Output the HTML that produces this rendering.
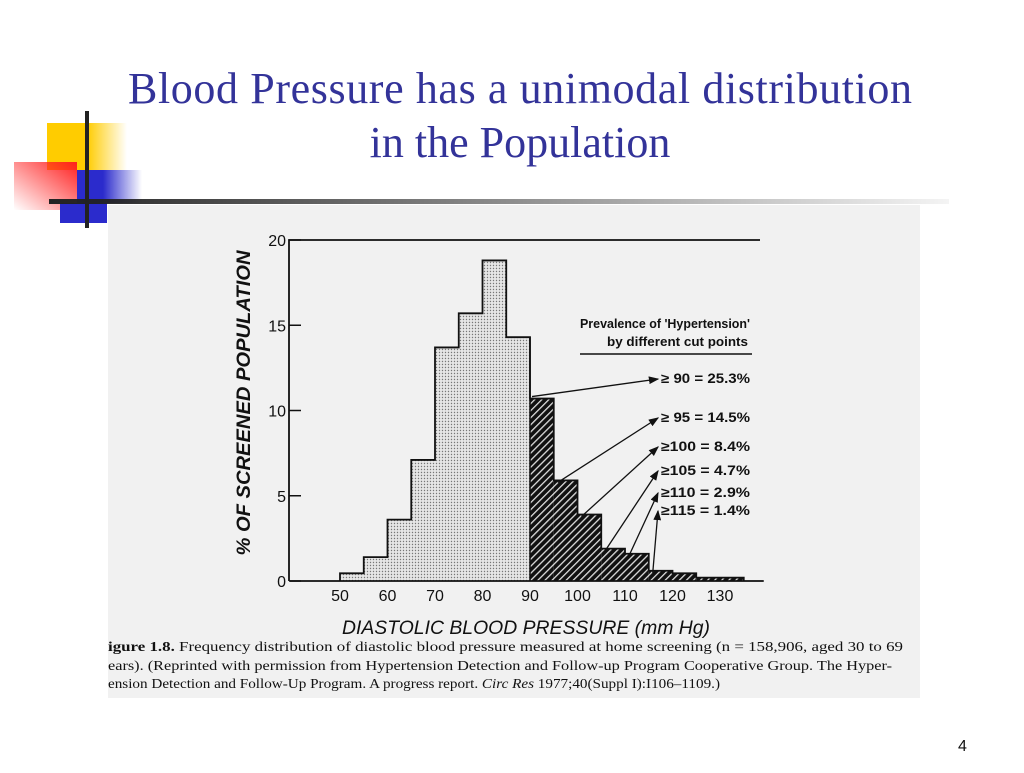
<!DOCTYPE html>
<html><head><meta charset="utf-8"><style>
body{margin:0;background:#fff;width:1024px;height:768px;overflow:hidden}
svg text{font-family:"Liberation Sans",sans-serif}
svg text.serif{font-family:"Liberation Serif",serif}
</style></head><body>
<svg width="1024" height="768">
<defs>
<linearGradient id="gy" x1="0" x2="1"><stop offset="0.5" stop-color="#ffcc00"/><stop offset="1" stop-color="#ffcc00" stop-opacity="0"/></linearGradient>
<linearGradient id="gr" x1="1" y1="0" x2="0" y2="1"><stop offset="0" stop-color="#ff2020"/><stop offset="1" stop-color="#ff2020" stop-opacity="0"/></linearGradient>
<linearGradient id="gb" x1="0" x2="1"><stop offset="0.4" stop-color="#2b2bcc"/><stop offset="1" stop-color="#2b2bcc" stop-opacity="0"/></linearGradient>
<linearGradient id="gl" x1="0" x2="1"><stop offset="0" stop-color="#222"/><stop offset="1" stop-color="#222" stop-opacity="0.05"/></linearGradient>
<pattern id="dots" width="3" height="3" patternUnits="userSpaceOnUse"><rect width="3" height="3" fill="#e6e6e6"/><circle cx="1.5" cy="1.5" r="0.7" fill="#777"/></pattern>
<pattern id="hatch" width="5" height="5" patternUnits="userSpaceOnUse" patternTransform="rotate(45)"><rect width="5" height="5" fill="#111"/><rect width="1.3" height="5" fill="#ddd"/></pattern>
<marker id="ah" markerWidth="8" markerHeight="6" refX="7" refY="3" orient="auto"><path d="M0,0 L8,3 L0,6 z" fill="#111"/></marker>
</defs>
<g>
<rect x="47" y="123" width="80" height="47" fill="url(#gy)"/>
<rect x="14" y="162" width="63" height="48" fill="url(#gr)"/>
<rect x="77" y="170" width="65" height="33" fill="url(#gb)"/>
<rect x="60" y="203" width="47" height="20" fill="#2b2bcc"/>
<rect x="49" y="199" width="900" height="5" fill="url(#gl)"/>
<rect x="85" y="111" width="4" height="117" fill="#222"/>
</g>
<text class="serif" x="520" y="103" text-anchor="middle" fill="#333399" font-size="44" textLength="784">Blood Pressure has a unimodal distribution</text>
<text class="serif" x="520" y="157" text-anchor="middle" fill="#333399" font-size="44">in the Population</text>
<rect x="108" y="205" width="812" height="493" fill="#f1f1f1"/>
<g id="chart"></g>
<text x="342" y="634" font-size="19" font-style="italic" fill="#111" textLength="368" lengthAdjust="spacingAndGlyphs">DIASTOLIC BLOOD PRESSURE (mm Hg)</text>
<text transform="translate(250,403) rotate(-90)" text-anchor="middle" font-size="19" font-style="italic" font-weight="bold" fill="#111" textLength="305" lengthAdjust="spacingAndGlyphs">% OF SCREENED POPULATION</text>
<g font-size="14" fill="#111">
<text class="serif" x="108" y="651" textLength="795" lengthAdjust="spacingAndGlyphs"><tspan font-weight="bold">igure 1.8.</tspan>   Frequency distribution of diastolic blood pressure measured at home screening (n = 158,906, aged 30 to 69</text>
<text class="serif" x="108" y="670" textLength="784" lengthAdjust="spacingAndGlyphs">ears). (Reprinted with permission from Hypertension Detection and Follow-up Program Cooperative Group. The Hyper-</text>
<text class="serif" x="108" y="688" textLength="612" lengthAdjust="spacingAndGlyphs">ension Detection and Follow-Up Program. A progress report. <tspan font-style="italic">Circ Res</tspan> 1977;40(Suppl I):I106–1109.)</text>
</g>
<g font-size="13" font-weight="bold" fill="#111">
<text x="580" y="328" textLength="170" lengthAdjust="spacingAndGlyphs">Prevalence of 'Hypertension'</text>
<text x="607" y="346" textLength="141" lengthAdjust="spacingAndGlyphs">by different cut points</text>
<line x1="580" y1="354" x2="752" y2="354" stroke="#111" stroke-width="1.5"/>
</g>
<g id="legend" font-size="13.5" font-weight="bold" fill="#111"></g>
<text x="958" y="751" font-size="16" fill="#111">4</text>
</svg>
<script>
const binStarts=[50,55,60,65,70,75,80,85,90,95,100,105,110,115,120,125,130];
const percents=[0.45,1.4,3.6,7.1,13.7,15.7,18.8,14.3,10.7,5.9,3.9,1.9,1.6,0.6,0.45,0.2,0.2];
const xTicks=[50,60,70,80,90,100,110,120,130];
const yTicks=[0,5,10,15,20];
const cutLabels=["≥ 90 = 25.3%","≥ 95 = 14.5%","≥100 =  8.4%","≥105 =  4.7%","≥110 =  2.9%","≥115 =  1.4%"];
const cutPoints=[90,95,100,105,110,115];
const NS="http://www.w3.org/2000/svg";
const xS=v=>340+(v-50)*4.75, yS=v=>581-v*17.05;
const g=document.getElementById('chart');
function mk(t,a,p){const e=document.createElementNS(NS,t);for(const k in a)e.setAttribute(k,a[k]);(p||g).appendChild(e);return e;}
let d=`M${xS(binStarts[0])},${yS(0)}`;
binStarts.forEach((b,i)=>{
 const r=mk('rect',{x:xS(b),y:yS(percents[i]),width:xS(b+5)-xS(b),height:yS(0)-yS(percents[i]),fill:b>=90?'url(#hatch)':'url(#dots)'});
 
 
 d+=` V${yS(percents[i])} H${xS(b+5)}`;
});
d+=` V${yS(0)}`;
mk('path',{d:d,fill:'none',stroke:'#111','stroke-width':1.8});
mk('line',{x1:xS(90),x2:xS(90),y1:yS(0),y2:yS(percents[binStarts.indexOf(85)]),stroke:'#111','stroke-width':1.5});
const ax=mk('path',{d:`M${xS(50)-50},${yS(0)} H${xS(135)+20} M289,${yS(0)} V${yS(20)} H760`,stroke:'#111','stroke-width':1.8,fill:'none'});


yTicks.forEach(t=>{
 mk('line',{x1:289,x2:301,y1:yS(t),y2:yS(t),stroke:'#111','stroke-width':1.5});
 const tx=mk('text',{x:286,y:yS(t)+6,'text-anchor':'end','font-size':16,fill:'#111'});tx.textContent=t;
 
 
});
xTicks.forEach(t=>{
 const tx=mk('text',{x:xS(t),y:601,'text-anchor':'middle','font-size':16,fill:'#111'});tx.textContent=t;
 
 
});
const lg=document.getElementById('legend');
const labelY=[383,422,451,475,497,515];
cutLabels.forEach((l,i)=>{
 const tx=mk('text',{x:661,y:labelY[i],textLength:89,lengthAdjust:'spacingAndGlyphs'},lg);tx.textContent=l;
 
 
 const c=cutPoints[i], idx=binStarts.indexOf(c);
 const sx=xS(c)+(i==0?2:4), sy=yS(percents[idx])+(i==0?-2:2);
 const ln=mk('line',{x1:sx,y1:sy,x2:658,y2:labelY[i]-4,stroke:'#111','stroke-width':1.3,'marker-end':'url(#ah)'},lg);
 
 
});
</script>
</body></html>
